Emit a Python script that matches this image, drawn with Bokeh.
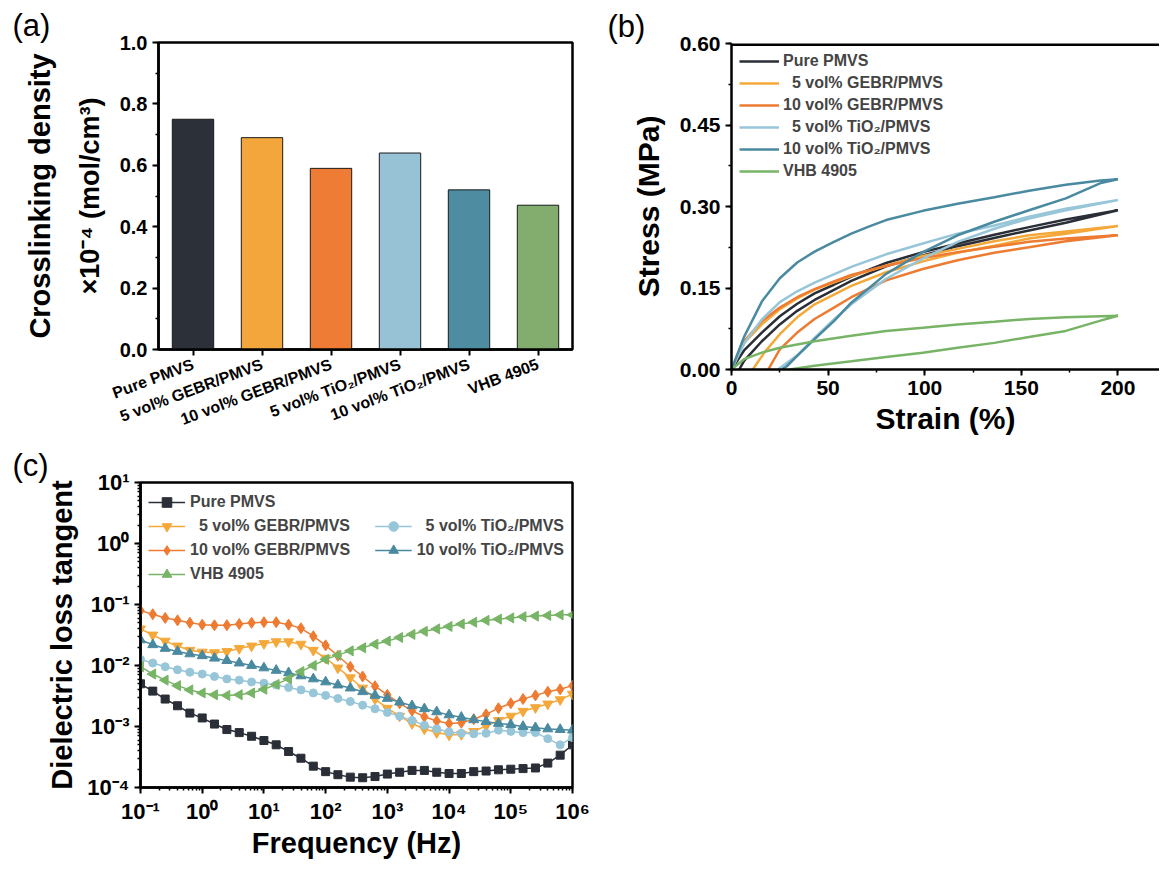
import numpy as np
from bokeh.plotting import figure
from bokeh.models import (FactorRange, LinearAxis, Legend, LegendItem, Span,
                          NumeralTickFormatter, SingleIntervalTicker, Range1d,
                          CustomJSTickFormatter, LogTicker)
from bokeh.layouts import row, column
from bokeh.embed import file_html
from bokeh.resources import INLINE

FONT = "Liberation Sans"

# ---------------- data ----------------
samples = ["Pure PMVS", "5 vol% GEBR/PMVS", "10 vol% GEBR/PMVS",
           "5 vol% TiO₂/PMVS", "10 vol% TiO₂/PMVS", "VHB 4905"]
crosslink_density = [0.75, 0.69, 0.59, 0.64, 0.52, 0.47]
bar_colors = ["#2c3039", "#f2a63c", "#ee7c35", "#97c1d4", "#4e8ca2", "#82ad6e"]
line_colors = ["#2a2e37", "#f5a83a", "#ee7b32", "#98c6d9", "#4a8aa0", "#78b466"]
legend_b = ["Pure PMVS", "\u00a0\u00a05 vol% GEBR/PMVS", "10 vol% GEBR/PMVS",
            "\u00a0\u00a05 vol% TiO₂/PMVS", "10 vol% TiO₂/PMVS", "VHB 4905"]

# stress-strain loops (loading then unloading)
pure_strain = [0, 6.5, 15.7, 25, 34, 43, 53, 62, 80, 99, 117, 136, 154, 173, 200,
               173, 154, 136, 117, 99, 80, 62, 43, 34, 25, 15.7, 6.5, 4]
pure_stress = [0, 0.035, 0.068, 0.098, 0.121, 0.140, 0.156, 0.171, 0.196, 0.216, 0.232, 0.248, 0.262, 0.276, 0.293,
               0.270, 0.256, 0.242, 0.227, 0.210, 0.190, 0.163, 0.128, 0.108, 0.083, 0.052, 0.016, 0]
gebr5_strain = [0, 6.5, 15.7, 25, 34, 43, 62, 80, 99, 117, 136, 154, 173, 200,
                173, 154, 136, 117, 99, 80, 62, 43, 34, 25, 17, 11]
gebr5_stress = [0, 0.049, 0.083, 0.111, 0.131, 0.147, 0.172, 0.191, 0.209, 0.222, 0.236, 0.247, 0.254, 0.264,
                0.250, 0.241, 0.228, 0.215, 0.199, 0.179, 0.154, 0.120, 0.096, 0.065, 0.031, 0]
gebr10_strain = [0, 6.5, 15.7, 25, 34, 43, 53, 62, 80, 99, 117, 136, 154, 173, 200,
                 173, 154, 136, 117, 99, 80, 62, 53, 43, 34, 25, 19]
gebr10_stress = [0, 0.052, 0.089, 0.114, 0.133, 0.148, 0.162, 0.174, 0.191, 0.205, 0.216, 0.226, 0.235, 0.241, 0.247,
                 0.236, 0.225, 0.215, 0.201, 0.185, 0.164, 0.133, 0.114, 0.093, 0.068, 0.037, 0]
tio5_strain = [0, 6.5, 15.7, 25, 34, 43, 62, 80, 99, 117, 136, 154, 173, 200,
               173, 154, 136, 117, 99, 80, 62, 53, 43, 34, 24]
tio5_stress = [0, 0.048, 0.092, 0.124, 0.144, 0.160, 0.189, 0.212, 0.232, 0.250, 0.265, 0.281, 0.296, 0.312,
               0.293, 0.278, 0.259, 0.235, 0.204, 0.167, 0.120, 0.092, 0.058, 0.026, 0]
tio10_strain = [0, 6.5, 15.7, 25, 34, 43, 53, 62, 71, 80, 99, 117, 136, 154, 173, 191, 200,
                191, 173, 154, 136, 117, 99, 80, 62, 53, 43, 34, 28.6, 26]
tio10_stress = [0, 0.060, 0.125, 0.168, 0.197, 0.217, 0.235, 0.250, 0.263, 0.275, 0.292, 0.305, 0.317, 0.329, 0.340, 0.348, 0.350,
                0.343, 0.315, 0.293, 0.272, 0.247, 0.216, 0.176, 0.123, 0.089, 0.056, 0.025, 0.006, 0]
vhb_strain = [0, 6.5, 15.7, 25, 43, 62, 80, 99, 117, 136, 154, 173, 200,
              191, 173, 154, 136, 117, 99, 80, 62, 43, 30]
vhb_stress = [0, 0.019, 0.031, 0.040, 0.052, 0.062, 0.071, 0.077, 0.083, 0.088, 0.093, 0.096, 0.099,
              0.090, 0.071, 0.060, 0.049, 0.040, 0.031, 0.023, 0.015, 0.007, 0]

# dielectric loss tangent (log10 of tan delta) vs frequency (Hz)
freq = [0.1, 0.158, 0.251, 0.398, 0.631, 1.0, 1.58, 2.51, 3.98, 6.31,
        10.0, 15.8, 25.1, 39.8, 63.1, 100.0, 158.0, 251.0, 398.0, 631.0,
        1.0e3, 1.58e3, 2.51e3, 3.98e3, 6.31e3, 1.0e4, 1.58e4, 2.51e4, 3.98e4, 6.31e4,
        1.0e5, 1.58e5, 2.51e5, 3.98e5, 6.31e5, 1.0e6]
log_tan_pure = [-2.30, -2.42, -2.55, -2.66, -2.78, -2.86, -2.96, -3.05, -3.10, -3.16,
                -3.23, -3.30, -3.41, -3.52, -3.65, -3.74, -3.79, -3.83, -3.84, -3.82,
                -3.78, -3.75, -3.72, -3.72, -3.75, -3.77, -3.77, -3.74, -3.73, -3.71,
                -3.70, -3.69, -3.68, -3.60, -3.47, -3.30]
log_tan_gebr5 = [-1.40, -1.50, -1.60, -1.68, -1.75, -1.78, -1.79, -1.77, -1.72, -1.68,
                 -1.64, -1.61, -1.61, -1.65, -1.75, -1.88, -2.04, -2.20, -2.37, -2.55,
                 -2.70, -2.83, -2.95, -3.04, -3.10, -3.14, -3.13, -3.08, -2.99, -2.90,
                 -2.83, -2.75, -2.69, -2.63, -2.56, -2.47]
log_tan_gebr10 = [-1.10, -1.16, -1.22, -1.26, -1.30, -1.33, -1.34, -1.34, -1.32, -1.30,
                  -1.29, -1.29, -1.33, -1.39, -1.52, -1.67, -1.84, -2.02, -2.18, -2.34,
                  -2.48, -2.62, -2.74, -2.84, -2.91, -2.95, -2.94, -2.88, -2.80, -2.70,
                  -2.62, -2.55, -2.49, -2.43, -2.39, -2.33]
log_tan_tio5 = [-1.90, -1.96, -2.02, -2.07, -2.11, -2.14, -2.18, -2.22, -2.24, -2.27,
                -2.29, -2.32, -2.36, -2.40, -2.45, -2.49, -2.54, -2.59, -2.65, -2.71,
                -2.77, -2.83, -2.90, -2.98, -3.04, -3.09, -3.11, -3.12, -3.11, -3.06,
                -3.08, -3.10, -3.10, -3.20, -3.30, -3.18]
log_tan_tio10 = [-1.58, -1.66, -1.72, -1.77, -1.81, -1.84, -1.88, -1.92, -1.96, -2.00,
                 -2.04, -2.08, -2.12, -2.17, -2.22, -2.27, -2.32, -2.37, -2.43, -2.49,
                 -2.54, -2.60, -2.66, -2.71, -2.76, -2.81, -2.85, -2.89, -2.92, -2.95,
                 -2.97, -3.00, -3.02, -3.04, -3.05, -3.06]
log_tan_vhb = [-2.02, -2.14, -2.24, -2.33, -2.40, -2.45, -2.48, -2.49, -2.48, -2.45,
               -2.39, -2.31, -2.22, -2.10, -2.00, -1.90, -1.83, -1.76, -1.71, -1.65,
               -1.60, -1.54, -1.49, -1.44, -1.40, -1.36, -1.32, -1.29, -1.26, -1.24,
               -1.22, -1.20, -1.19, -1.18, -1.17, -1.17]


def style_axis(ax, tick_size="20px", label_size="29px"):
    ax.axis_line_width = 2.5
    ax.axis_line_color = "black"
    ax.major_tick_line_width = 2
    ax.minor_tick_line_width = 1.5
    ax.major_tick_line_color = "black"
    ax.minor_tick_line_color = "black"
    ax.major_tick_in = 0
    ax.major_tick_out = 6
    ax.minor_tick_in = 0
    ax.minor_tick_out = 3
    ax.major_label_text_font = FONT
    ax.major_label_text_font_style = "bold"
    ax.major_label_text_font_size = tick_size
    ax.major_label_text_color = "black"
    ax.axis_label_text_font = FONT
    ax.axis_label_text_font_style = "bold"
    ax.axis_label_text_font_size = label_size
    ax.axis_label_text_color = "black"


def panel_title(p, text, offset):
    p.title.text = text
    p.title.text_font = FONT
    p.title.text_font_size = "31px"
    p.title.text_font_style = "normal"
    p.title.text_color = "black"
    p.title.align = "left"
    p.title.offset = offset
    p.title.standoff = 0


# ---------------- (a) bar chart ----------------
pa = figure(width=590, height=440, x_range=FactorRange(factors=samples),
            y_range=Range1d(0, 1.0), output_backend="svg", toolbar_location=None,
            frame_align=False,
            min_border_left=158, min_border_right=18, min_border_top=42, min_border_bottom=91)
pa.vbar(x=samples, top=crosslink_density, width=0.6, fill_color=bar_colors,
        line_color="#1a1a1a", line_width=1)
pa.xgrid.visible = False
pa.ygrid.visible = False
pa.outline_line_color = "black"
pa.outline_line_width = 2.5
pa.outline_line_alpha = 1
pa.yaxis.ticker = SingleIntervalTicker(interval=0.2, num_minor_ticks=2)
pa.yaxis.formatter = NumeralTickFormatter(format="0.0")
for ax in pa.yaxis:
    style_axis(ax, "20px", "27px")
    ax.axis_label = "×10⁻⁴ (mol/cm³)"
    ax.axis_label_standoff = 12
for ax in pa.xaxis:
    style_axis(ax, "16px")
    ax.major_label_orientation = 0.36
    ax.major_label_standoff = 8
outer = LinearAxis(axis_label="Crosslinking density")
style_axis(outer, "0px", "29px")
outer.axis_line_color = None
outer.major_tick_line_color = None
outer.minor_tick_line_color = None
outer.major_label_text_alpha = 0
outer.axis_label_standoff = 10
pa.add_layout(outer, "left")
panel_title(pa, "(a)", -146)

# ---------------- (b) stress-strain ----------------
pb = figure(width=569, height=440, x_range=Range1d(0, 221.5), y_range=Range1d(0, 0.6),
            output_backend="svg", toolbar_location=None, frame_align=False,
            min_border_left=141, min_border_right=0, min_border_top=43, min_border_bottom=71)
pb.xgrid.visible = False
pb.ygrid.visible = False
pb.outline_line_color = None
pb.xaxis.ticker = SingleIntervalTicker(interval=50, num_minor_ticks=2)
pb.yaxis.ticker = SingleIntervalTicker(interval=0.15, num_minor_ticks=2)
pb.yaxis.formatter = NumeralTickFormatter(format="0.00")
for ax in pb.xaxis:
    style_axis(ax, "21px", "30px")
    ax.axis_label = "Strain (%)"
    ax.axis_label_standoff = 4
for ax in pb.yaxis:
    style_axis(ax, "21px", "30px")
    ax.axis_label = "Stress (MPa)"
    ax.axis_label_standoff = 12
pb.add_layout(Span(location=0.6, dimension="width", line_color="black", line_width=5))

loops = [(pure_strain, pure_stress), (gebr5_strain, gebr5_stress), (gebr10_strain, gebr10_stress),
         (tio5_strain, tio5_stress), (tio10_strain, tio10_stress), (vhb_strain, vhb_stress)]
items_b = []
for (sx, sy), col, lab in zip(loops, line_colors, legend_b):
    r = pb.line(sx, sy, line_color=col, line_width=2.5)
    items_b.append(LegendItem(label=lab, renderers=[r]))
leg_b = Legend(items=items_b, location="top_left", border_line_color=None,
               background_fill_alpha=0, label_text_font=FONT, label_text_font_style="bold",
               label_text_font_size="16px", glyph_width=40, glyph_height=20, label_height=20,
               spacing=2, padding=3, margin=8, label_standoff=4)
pb.add_layout(leg_b)
panel_title(pb, "(b)", -124)

# ---------------- (c) dielectric loss ----------------
pc = figure(width=610, height=432, x_axis_type="log", y_axis_type="log",
            x_range=Range1d(0.1, 1.0e6), y_range=Range1d(1.0e-4, 10.0),
            output_backend="svg", toolbar_location=None, frame_align=False,
            min_border_left=140, min_border_right=38, min_border_top=42, min_border_bottom=85)
pc.xgrid.visible = False
pc.ygrid.visible = False
pc.outline_line_color = "black"
pc.outline_line_width = 2.5
pc.outline_line_alpha = 1
sup_fmt = CustomJSTickFormatter(code="""
const sup = {"-": "\u207b", "0": "\u2070", "1": "\u00b9", "2": "\u00b2", "3": "\u00b3",
             "4": "\u2074", "5": "\u2075", "6": "\u2076", "7": "\u2077", "8": "\u2078", "9": "\u2079"};
const e = Math.round(Math.log10(tick));
return "10" + String(e).split("").map(c => sup[c]).join("");
""")
for ax in pc.xaxis:
    style_axis(ax, "22px", "29px")
    ax.ticker = LogTicker(num_minor_ticks=10)
    ax.formatter = sup_fmt
    ax.axis_label = "Frequency (Hz)"
    ax.axis_label_standoff = 0
for ax in pc.yaxis:
    style_axis(ax, "22px", "29px")
    ax.ticker = LogTicker(num_minor_ticks=10)
    ax.formatter = sup_fmt
    ax.axis_label = "Dielectric loss tangent"
    ax.axis_label_standoff = 6

series_c = [log_tan_pure, log_tan_gebr5, log_tan_gebr10, log_tan_tio5, log_tan_tio10, log_tan_vhb]
markers = ["square", "inverted_triangle", "diamond", "circle", "triangle", "triangle"]
angles = [0.0, 0.0, 0.0, 0.0, 0.0, np.pi / 2]
msizes = [8, 10, 11, 8, 10, 10]
rends = []
for ys, col, mk, ang, ms in zip(series_c, line_colors, markers, angles, msizes):
    tan = [10.0 ** v for v in ys]
    rl = pc.line(freq, tan, line_color=col, line_width=1.5)
    rs = pc.scatter(freq, tan, marker=mk, angle=ang, angle_units="rad", size=ms,
                    fill_color=col, line_color=col)
    rends.append([rl, rs])

blank = pc.line([1, 1], [1e-3, 1e-3], line_alpha=0)
leg_c1 = Legend(items=[LegendItem(label="Pure PMVS", renderers=rends[0]),
                       LegendItem(label="\u00a0\u00a05 vol% GEBR/PMVS", renderers=rends[1]),
                       LegendItem(label="10 vol% GEBR/PMVS", renderers=rends[2]),
                       LegendItem(label="VHB 4905", renderers=rends[5])],
                location="top_left")
leg_c2 = Legend(items=[LegendItem(label="\u00a0", renderers=[blank]),
                       LegendItem(label="\u00a0\u00a05 vol% TiO₂/PMVS", renderers=rends[3]),
                       LegendItem(label="10 vol% TiO₂/PMVS", renderers=rends[4])],
                location="top_right")
for lg in (leg_c1, leg_c2):
    lg.border_line_color = None
    lg.background_fill_alpha = 0
    lg.label_text_font = FONT
    lg.label_text_font_style = "bold"
    lg.label_text_font_size = "16px"
    lg.glyph_width = 37
    lg.glyph_height = 24
    lg.label_height = 24
    lg.spacing = 0
    lg.padding = 2
    lg.margin = 8
    lg.label_standoff = 5
    pc.add_layout(lg)
panel_title(pc, "(c)", -128)

layout = column(row(pa, pb), pc)
open("out.html", "w").write(file_html(layout, INLINE))
